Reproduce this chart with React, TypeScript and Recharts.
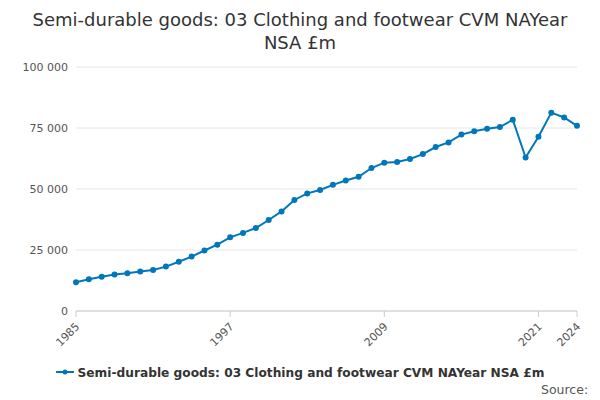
import { LineChart, Line, XAxis, YAxis, CartesianGrid } from 'recharts';

const years = Array.from({ length: 40 }, (_, i) => 1985 + i);
const values = [
  11800, 13000, 14000, 15000, 15500, 16200, 16800, 18200, 20200, 22300,
  24800, 27200, 30200, 32000, 34000, 37300, 40800, 45500, 48200, 49600,
  51700, 53500, 55000, 58600, 60800, 61100, 62300, 64300, 67200, 69100,
  72300, 73700, 74700, 75400, 78400, 62900, 71400, 81300, 79300, 75900,
];
const xTicks = [1985, 1997, 2009, 2021, 2024];
const yTicks = [0, 25000, 50000, 75000, 100000];
const seriesName = 'Semi-durable goods: 03 Clothing and footwear CVM NAYear NSA £m';

const data = years.map((year, i) => ({ year, value: values[i] }));
const font = '"DejaVu Sans", sans-serif';
const fmt = (v: number) => v.toLocaleString('en-US').replace(/,/g, ' ');

const XTick = ({ x, y, payload }: any) => (
  <text x={x} y={y} dy={10} transform={`rotate(-45 ${x} ${y + 4})`} textAnchor="end" fontSize={11} fill="#555" fontFamily={font}>
    {payload.value}
  </text>
);

export default function App() {
  return (
    <div style={{ position: 'absolute', left: 0, top: 0, width: 600, height: 400, background: '#fff', fontFamily: font }}>
      <div style={{ position: 'absolute', top: 8, left: 0, width: 600, textAlign: 'center', fontSize: 18, color: '#333', lineHeight: '23px' }}>
        Semi-durable goods: 03 Clothing and footwear CVM NAYear<br />NSA £m
      </div>
      <LineChart width={600} height={400} data={data} margin={{ top: 67, right: 23, left: 0, bottom: 49 }}>
        <CartesianGrid vertical={false} stroke="#e6e6e6" />
        <XAxis dataKey="year" type="number" domain={[1985, 2024]} ticks={xTicks} tick={<XTick />} interval={0}
          stroke="#ccc" tickLine={{ stroke: '#ccc' }} height={40} />
        <YAxis domain={[0, 100000]} ticks={yTicks} tickFormatter={fmt} width={76} axisLine={false} tickLine={false}
          tick={{ fontSize: 11, fill: '#555', fontFamily: font }} />
        <Line dataKey="value" stroke="#0077bb" strokeWidth={2} dot={{ r: 2, fill: '#0077bb', stroke: '#0077bb' }}
          isAnimationActive={false} />
      </LineChart>
      <div style={{ position: 'absolute', top: 366, left: 0, width: 600, textAlign: 'center', fontSize: 12.2, fontWeight: 'bold', color: '#333' }}>
        <svg width={18} height={10} style={{ marginRight: 4 }}>
          <line x1={0} y1={5} x2={18} y2={5} stroke="#0077bb" strokeWidth={2} />
          <circle cx={9} cy={5} r={2.5} fill="#0077bb" />
        </svg>
        {seriesName}
      </div>
      <div style={{ position: 'absolute', top: 382, left: 541, fontSize: 12.5, color: '#555' }}>Source:</div>
    </div>
  );
}
